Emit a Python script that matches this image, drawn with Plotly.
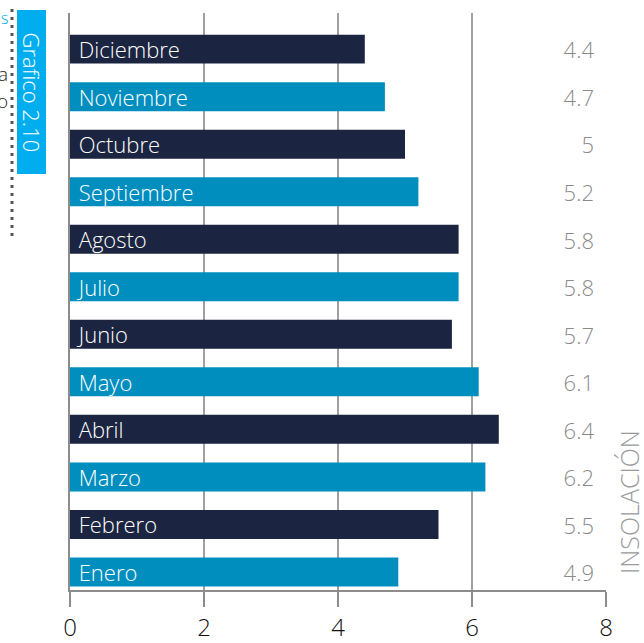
import plotly.graph_objects as go

# Insolación mensual (Enero abajo, Diciembre arriba)
months = ["Enero", "Febrero", "Marzo", "Abril", "Mayo", "Junio",
          "Julio", "Agosto", "Septiembre", "Octubre", "Noviembre", "Diciembre"]
values = [4.9, 5.5, 6.2, 6.4, 6.1, 5.7, 5.8, 5.8, 5.2, 5.0, 4.7, 4.4]
value_labels = ["4.9", "5.5", "6.2", "6.4", "6.1", "5.7",
                "5.8", "5.8", "5.2", "5", "4.7", "4.4"]
x_ticks = [0, 2, 4, 6, 8]

NAVY = "#1b2541"
CYAN = "#008ebf"
FONT = "Open Sans"

pos = list(range(len(months)))
colors = [CYAN if i % 2 == 0 else NAVY for i in pos]

fig = go.Figure()
fig.add_trace(go.Bar(x=values, y=pos, orientation="h",
                     marker_color=colors, marker_line_width=0,
                     text=[" " + m for m in months], textposition="inside",
                     insidetextanchor="start", constraintext="none",
                     textfont=dict(color="white", size=22, family=FONT, weight=300),
                     hoverinfo="skip", showlegend=False))
# value column on the right
fig.add_trace(go.Scatter(x=[7.82] * len(pos), y=[p - 0.08 for p in pos], mode="text",
                         text=value_labels, textposition="middle left",
                         textfont=dict(color="#8a8a8a", size=22, family=FONT, weight=300),
                         hoverinfo="skip", showlegend=False))

fig.update_layout(width=644, height=643,
                  margin=dict(l=70, r=38, t=13, b=53, autoexpand=False),
                  plot_bgcolor="white", paper_bgcolor="white",
                  bargap=0.39, font_family=FONT)
fig.update_xaxes(range=[0, 8], tickvals=x_ticks, ticks="outside",
                 ticklen=15, tickwidth=2, tickcolor="#8c8c8c",
                 tickfont=dict(size=24, color="#111111", family=FONT, weight=300),
                 showgrid=True, gridcolor="#a0a0a0", gridwidth=1.5,
                 showline=True, linecolor="#8c8c8c", linewidth=2,
                 zeroline=False, fixedrange=True)
fig.update_yaxes(range=[-0.38, 11.76], showticklabels=False,
                 showgrid=False, zeroline=False,
                 showline=True, linecolor="#8c8c8c", linewidth=2,
                 fixedrange=True)

# axis title on the right
fig.add_annotation(text="INSOLACIÓN", xref="paper", yref="paper",
                   x=(629 - 70) / 536, y=(590 - 502) / 577, textangle=-90,
                   xanchor="center", yanchor="middle", showarrow=False,
                   font=dict(size=25, color="#9a9a9a", family=FONT, weight=300))

# page decoration on the left: tab with chart number and dotted rule
fig.add_shape(type="rect", xref="paper", yref="paper",
              x0=(17 - 70) / 536, x1=(46 - 70) / 536,
              y0=(590 - 174) / 577, y1=(590 - 10) / 577,
              fillcolor="#00aeef", line_width=0, layer="below")
fig.add_annotation(text="Grafico 2.10", xref="paper", yref="paper",
                   x=(31.5 - 70) / 536, y=(590 - 92) / 577, textangle=90,
                   xanchor="center", yanchor="middle", showarrow=False,
                   font=dict(size=22, color="white", family=FONT, weight=300))
fig.add_shape(type="line", xref="paper", yref="paper",
              x0=(12 - 70) / 536, x1=(12 - 70) / 536,
              y0=(590 - 236) / 577, y1=(590 - 8) / 577,
              line=dict(color="#555555", width=3, dash="3px,5px"))
for txt, py, col in [("s", 18, "#00aeef"), ("a", 74, "#222222"), ("o", 101, "#222222")]:
    fig.add_annotation(text=txt, xref="paper", yref="paper",
                       x=(10 - 70) / 536, y=(590 - py) / 577,
                       xanchor="right", yanchor="middle", showarrow=False,
                       font=dict(size=19 if txt != "s" else 16, color=col,
                                 family=FONT, weight=300))

fig.write_html("out.html", config={"displayModeBar": False},
               post_script="document.body.style.margin='0';")
